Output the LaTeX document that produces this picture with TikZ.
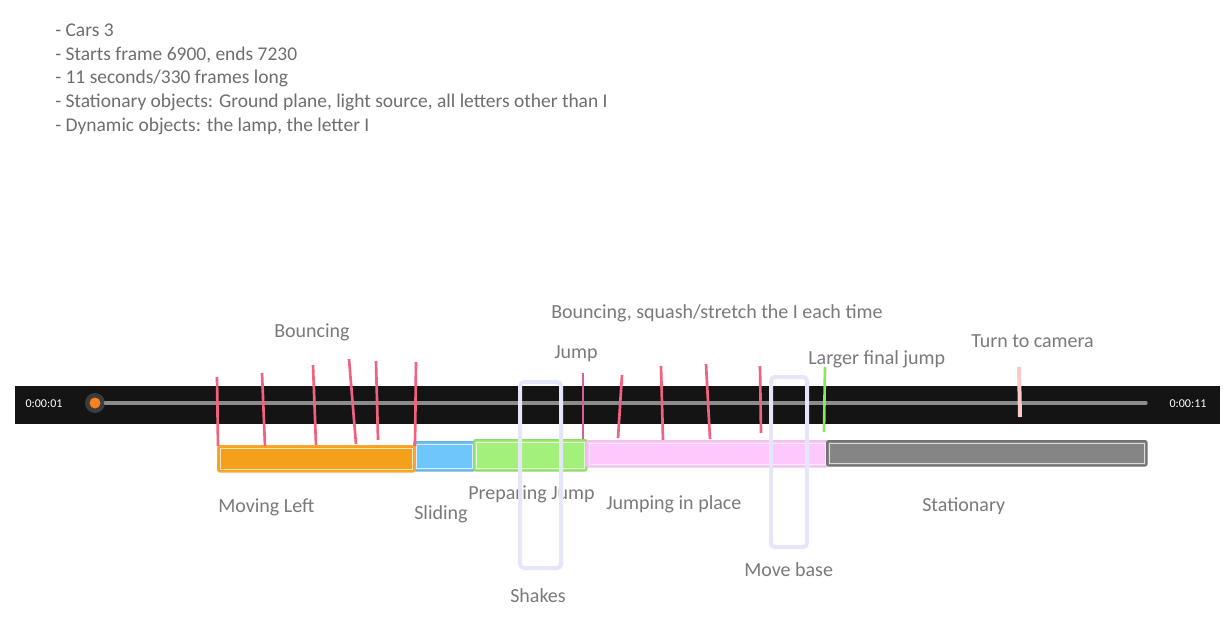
\documentclass[tikz,border=0pt]{standalone}
\usepackage{fontspec}
\setmainfont{Carlito}
\usetikzlibrary{positioning}
\definecolor{lblgray}{HTML}{7A7A7A}
\definecolor{hdrgray}{HTML}{6E6E6E}
\definecolor{barblack}{HTML}{141414}
\definecolor{track}{HTML}{8C8C8C}
\definecolor{knobring}{HTML}{3C3C3C}
\definecolor{knobfill}{HTML}{F7821E}
\definecolor{tickred}{HTML}{F0627E}
\definecolor{tickjump}{HTML}{D0609E}
\definecolor{tickgreen}{HTML}{8AE65C}
\definecolor{tickpale}{HTML}{F9CACA}
\definecolor{segorange}{HTML}{F5A01A}
\definecolor{segblue}{HTML}{6EC6FA}
\definecolor{seggreen}{HTML}{A3F07A}
\definecolor{segpink}{HTML}{FDC9FD}
\definecolor{seggray}{HTML}{858585}
\definecolor{lavender}{HTML}{E6E6FA}
\newcommand{\px}{0.75pt}

\begin{document}
\begin{tikzpicture}[
      x=0.75pt, y=-0.75pt,
      lbl/.style    = {font=\fontsize{15}{18}\selectfont, text=lblgray,
                       inner sep=0pt, anchor=base west},
      hdr/.style    = {font=\fontsize{14.6}{17}\selectfont, text=hdrgray,
                       inner sep=0pt, anchor=base west},
      timelbl/.style= {font=\fontsize{9}{10}\selectfont, text=white, inner sep=0pt},
      seg/.style    = {rounded corners=1.5pt, anchor=north west, inner sep=0pt,
                       line width=1.2pt},
      inner/.style  = {white, opacity=0.7, line width=0.6pt},
      tick/.style   = {line width=2pt, tickred},
      bracket/.style= {draw=lavender, line width=3pt, rounded corners=3pt},
    ]
    \useasboundingbox[fill=white] (0,0) rectangle (1231,617);

    % ---- notes ----
    \node[hdr] (n1) at (55,37)  {- Cars 3};
    \node[hdr] (n2) at (55,61)  {- Starts frame 6900, ends 7230};
    \node[hdr] (n3) at (55,84)  {- 11 seconds/330 frames long};
    \node[hdr] (n4) at (55,108) {- Stationary objects: Ground plane, light source, all letters other than I};
    \node[hdr] (n5) at (55,131) {- Dynamic objects: the lamp, the letter I};

    % ---- player bar ----
    \fill[barblack] (15,386) rectangle (1220,424);
    \node[timelbl] (tstart) at (44,404)   {0:00:01};
    \node[timelbl] (tend)   at (1188,404) {0:00:11};
    \coordinate (trackend) at (1146,403);
    \node[circle, fill=knobring, minimum size=20*\px, inner sep=0pt] (knob) at (95,403) {};
    \draw[track, line width=2.4pt, line cap=round] (knob.east) -- (trackend);
    \node[circle, fill=knobfill, minimum size=11*\px, inner sep=0pt] at (knob) {};

    % ---- segments ----
    \node[seg, draw=segblue!85!black!90, fill=segblue,  minimum width=61*\px,  minimum height=29*\px] (sliding) at (413,441) {};
    \node[seg, draw=segorange!90!white, fill=segorange, minimum width=197*\px, minimum height=26*\px] (moving)  at (217,445) {};
    \node[seg, draw=seggreen!90!black, fill=seggreen,  minimum width=113*\px, minimum height=31*\px] (prep)    at (473,439) {};
    \node[seg, draw=segpink!95!black, fill=segpink,   minimum width=241*\px, minimum height=26*\px] (jumping) at (586,440) {};
    \node[seg, draw=seggray!85!black, fill=seggray,   minimum width=320*\px, minimum height=25*\px] (still)   at (826,440) {};

    \foreach \s in {sliding, moving, prep, jumping, still}
      \draw[inner] ([shift={(3,3)}]\s.north west) rectangle ([shift={(-3,-3)}]\s.south east);

    % ---- keys ----
    \foreach \xa/\ya/\xb/\yb in {217/377/218/446, 262/373/265/446, 313/365/316/445,
                                349/359/356/444, 376/361/378/440, 416/362/415/446,
                                622/375/618/438, 661/366/663/440, 706/364/710/439,
                                760/366/761/433}
      \draw[tick] (\xa,\ya) -- (\xb,\yb);
    \draw[tick, tickjump]  (583,373) -- (583,439);
    \draw[tick, tickgreen] (825,367) -- (824,432);
    \draw[tick, tickpale, line width=3pt] (1019,367) -- (1020,417);

    % ---- labels ----
    \node[lbl] (bounce)  at (274,337) {Bouncing};
    \node[lbl] (squash)  at (551,318) {Bouncing, squash/stretch the I each time};
    \node[lbl] (jump)    at (554,358) {Jump};
    \node[lbl] (larger)  at (808,364) {Larger final jump};
    \node[lbl] (turn)    at (971,347) {Turn to camera};
    \node[lbl] (lmoving) at (218,512) {Moving Left};
    \node[lbl] (lslide)  at (414,519) {Sliding};
    \node[lbl] (lprep)   at (468,499) {Preparing Jump};
    \node[lbl] (ljump)   at (606,509) {Jumping in place};
    \node[lbl] (lstill)  at (922,511) {Stationary};
    \node[lbl] (lmove)   at (744,576) {Move base};
    \node[lbl] (lshake)  at (510,602) {Shakes};

    % ---- brackets ----
    \draw[bracket] (520,382) rectangle (561,568);
    \draw[bracket] (771,377) rectangle (807,547);
  \end{tikzpicture}
\end{document}
